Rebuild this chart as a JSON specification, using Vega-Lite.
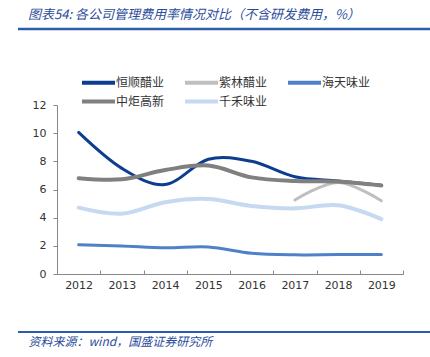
{
  "$schema": "https://vega.github.io/schema/vega-lite/v6.json",
  "width": 346,
  "height": 169,
  "autosize": "none",
  "padding": {"left": 57, "top": 105, "right": 27, "bottom": 83},
  "background": "white",
  "config": {"view": {"stroke": null}, "font": "Noto Sans CJK SC"},
  "title": {
    "text": "图表54:  各公司管理费用率情况对比（不含研发费用，%）",
    "anchor": "start",
    "frame": "group",
    "dx": -29,
    "offset": 6,
    "font": "Noto Sans CJK SC",
    "fontSize": 13,
    "fontStyle": "italic",
    "fontWeight": "normal",
    "color": "#2b4c9b"
  },
  "layer": [
    {
      "data": {"values": [{}]},
      "mark": {"type": "rule", "color": "#2e5cab", "strokeWidth": 2.5},
      "encoding": {"x": {"value": -39}, "x2": {"value": 373}, "y": {"value": -76}}
    },
    {
      "data": {"values": [{}]},
      "mark": {"type": "rule", "color": "#2e5cab", "strokeWidth": 2},
      "encoding": {"x": {"value": -39}, "x2": {"value": 373}, "y": {"value": 227}}
    },
    {
      "data": {
        "values": [
          {"s": "恒顺醋业", "year": "2012", "v": 10.05},
          {"s": "恒顺醋业", "year": "2013", "v": 7.5},
          {"s": "恒顺醋业", "year": "2014", "v": 6.35},
          {"s": "恒顺醋业", "year": "2015", "v": 8.15},
          {"s": "恒顺醋业", "year": "2016", "v": 8.0},
          {"s": "恒顺醋业", "year": "2017", "v": 6.9},
          {"s": "恒顺醋业", "year": "2018", "v": 6.6},
          {"s": "恒顺醋业", "year": "2019", "v": 6.3},
          {"s": "紫林醋业", "year": "2017", "v": 5.25},
          {"s": "紫林醋业", "year": "2018", "v": 6.5},
          {"s": "紫林醋业", "year": "2019", "v": 5.2},
          {"s": "海天味业", "year": "2012", "v": 2.08},
          {"s": "海天味业", "year": "2013", "v": 1.99},
          {"s": "海天味业", "year": "2014", "v": 1.86},
          {"s": "海天味业", "year": "2015", "v": 1.92},
          {"s": "海天味业", "year": "2016", "v": 1.47},
          {"s": "海天味业", "year": "2017", "v": 1.36},
          {"s": "海天味业", "year": "2018", "v": 1.38},
          {"s": "海天味业", "year": "2019", "v": 1.38},
          {"s": "中炬高新", "year": "2012", "v": 6.8},
          {"s": "中炬高新", "year": "2013", "v": 6.72},
          {"s": "中炬高新", "year": "2014", "v": 7.38},
          {"s": "中炬高新", "year": "2015", "v": 7.7},
          {"s": "中炬高新", "year": "2016", "v": 6.86},
          {"s": "中炬高新", "year": "2017", "v": 6.6},
          {"s": "中炬高新", "year": "2018", "v": 6.56},
          {"s": "中炬高新", "year": "2019", "v": 6.28},
          {"s": "千禾味业", "year": "2012", "v": 4.71},
          {"s": "千禾味业", "year": "2013", "v": 4.28},
          {"s": "千禾味业", "year": "2014", "v": 5.1},
          {"s": "千禾味业", "year": "2015", "v": 5.33},
          {"s": "千禾味业", "year": "2016", "v": 4.83},
          {"s": "千禾味业", "year": "2017", "v": 4.66},
          {"s": "千禾味业", "year": "2018", "v": 4.88},
          {"s": "千禾味业", "year": "2019", "v": 3.9}
        ]
      },
      "mark": {"type": "line", "interpolate": "cardinal", "strokeCap": "round"},
      "encoding": {
        "x": {
          "field": "year",
          "type": "ordinal",
          "bandPosition": 0.5,
          "scale": {"type": "band", "paddingInner": 0, "paddingOuter": 0},
          "axis": {
            "labelAngle": 0,
            "labelFont": "DejaVu Sans",
            "labelFontSize": 11,
            "labelColor": "#333333",
            "labelPadding": 9,
            "tickBand": "extent",
            "tickSize": -4,
            "tickColor": "#888888",
            "domainColor": "#888888",
            "title": "资料来源：wind，国盛证券研究所",
            "titleFont": "Noto Sans CJK SC",
            "titleFontSize": 12,
            "titleFontStyle": "italic",
            "titleFontWeight": "normal",
            "titleColor": "#2b4c9b",
            "titleAnchor": "start",
            "titleAlign": "left",
            "titleBaseline": "middle",
            "titleX": -29,
            "titleY": 67
          }
        },
        "y": {
          "field": "v",
          "type": "quantitative",
          "scale": {"domain": [0, 12]},
          "axis": {
            "values": [0, 2, 4, 6, 8, 10, 12],
            "grid": false,
            "title": null,
            "labelFont": "DejaVu Sans",
            "labelFontSize": 11,
            "labelColor": "#333333",
            "labelPadding": 7,
            "tickSize": 4,
            "tickColor": "#888888",
            "domainColor": "#888888"
          }
        },
        "color": {
          "field": "s",
          "type": "nominal",
          "sort": ["恒顺醋业", "紫林醋业", "海天味业", "中炬高新", "千禾味业"],
          "scale": {
            "domain": ["恒顺醋业", "紫林醋业", "海天味业", "中炬高新", "千禾味业"],
            "range": ["#0d3d91", "#bfbfbf", "#4f81c9", "#808080", "#c6d9f0"]
          },
          "legend": {
            "orient": "none",
            "legendX": 34,
            "legendY": -30,
            "direction": "horizontal",
            "columns": 3,
            "title": null,
            "symbolType": "M-3,0H3",
            "symbolSize": 121,
            "symbolStrokeWidth": 4,
            "labelFont": "Noto Sans CJK SC",
            "labelFontSize": 12,
            "labelColor": "#333333",
            "labelOffset": 10,
            "columnPadding": 12,
            "rowPadding": 2,
            "padding": 0
          }
        },
        "strokeWidth": {
          "condition": {"test": "datum.s === '中炬高新' || datum.s === '千禾味业'", "value": 4},
          "value": 3
        }
      }
    }
  ]
}
